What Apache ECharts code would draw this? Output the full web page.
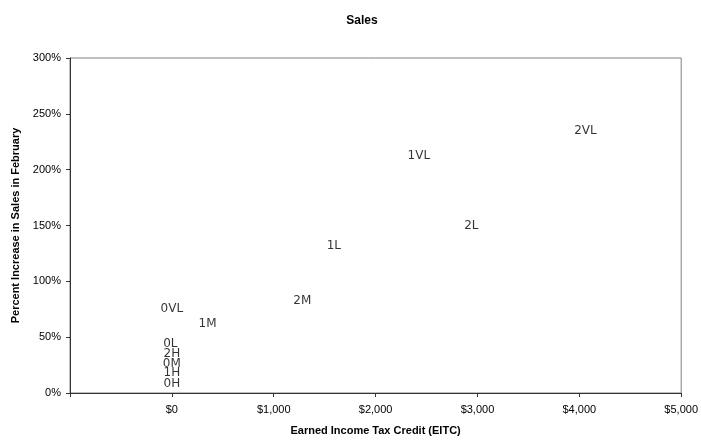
<!DOCTYPE html>
<html>
<head>
<meta charset="utf-8">
<script src="https://cdn.jsdelivr.net/npm/echarts@6/dist/echarts.min.js"></script>
<style>html,body{margin:0;padding:0;background:#fff}#c{width:701px;height:443px}</style>
</head>
<body>
<div id="c"></div>
<script>
const labels = ['0VL','1M','0L','2H','0M','1H','0H','2M','1L','2L','1VL','2VL'];
const eitc = [0, 350, -15, 0, 0, 0, 0, 1280, 1590, 2940, 2425, 4060];
const pctIncrease = [75, 62, 44, 35, 26, 18, 8.5, 82.5, 131.5, 150, 212, 235];
const xTicks = [-1000, 0, 1000, 2000, 3000, 4000, 5000];
const yTicks = [0, 50, 100, 150, 200, 250, 300];

const data = labels.map((l, i) => [eitc[i], pctIncrease[i], l]);
const chart = echarts.init(document.getElementById('c'));
chart.setOption({
  animation: false,
  title: {
    text: 'Sales', left: 357, top: 10, textAlign: 'center',
    textStyle: { fontFamily: 'Liberation Sans', fontSize: 12, fontWeight: 'bold', color: '#000' }
  },
  grid: { left: 70, right: 19, top: 58, bottom: 50, show: true, borderColor: '#808080', borderWidth: 1 },
  xAxis: {
    type: 'value', min: xTicks[0], max: xTicks[xTicks.length - 1], interval: 1000,
    name: 'Earned Income Tax Credit (EITC)', nameLocation: 'middle', nameGap: 32,
    nameTextStyle: { fontFamily: 'Liberation Sans', fontSize: 11, fontWeight: 'bold', color: '#000' },
    axisLine: { onZero: false, lineStyle: { color: '#333' } },
    axisTick: { show: true, length: 4, lineStyle: { color: '#333' } },
    splitLine: { show: false },
    axisLabel: {
      fontFamily: 'Liberation Sans', fontSize: 11, color: '#000', margin: 11,
      formatter: v => v < 0 ? '' : '$' + v.toLocaleString('en-US')
    }
  },
  yAxis: {
    type: 'value', min: yTicks[0], max: yTicks[yTicks.length - 1], interval: 50,
    name: 'Percent Increase in Sales in February', nameLocation: 'middle', nameGap: 47,
    nameTextStyle: { fontFamily: 'Liberation Sans', fontSize: 11, fontWeight: 'bold', color: '#000' },
    axisLine: { show: true, onZero: false, lineStyle: { color: '#333' } },
    axisTick: { show: true, length: 4, lineStyle: { color: '#333' } },
    splitLine: { show: false },
    axisLabel: { fontFamily: 'Liberation Sans', fontSize: 11, color: '#000', margin: 9, formatter: v => v + '%' }
  },
  series: [{
    type: 'scatter', data: data, symbolSize: 0, silent: true,
    label: {
      show: true, position: 'inside', formatter: p => p.data[2],
      fontFamily: 'DejaVu Sans', fontSize: 12, color: '#000'
    }
  }]
});
</script>
</body>
</html>
